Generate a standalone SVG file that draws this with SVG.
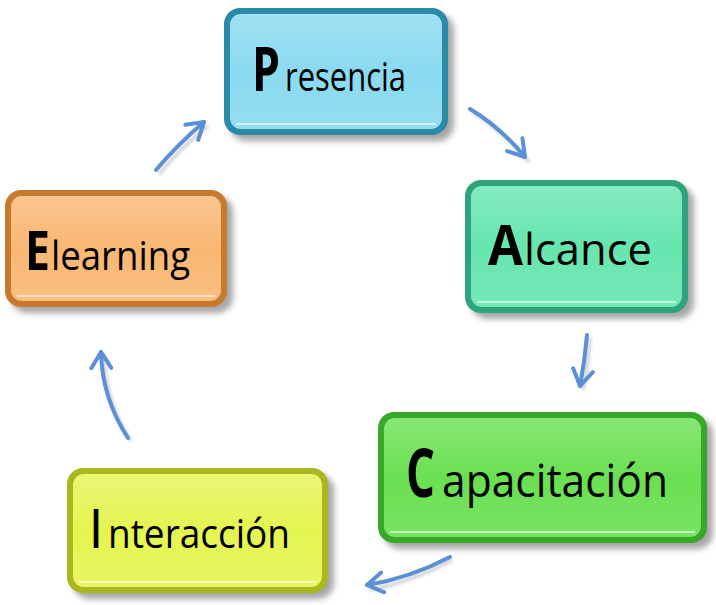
<svg xmlns="http://www.w3.org/2000/svg" width="716" height="605" viewBox="0 0 716 605">
<defs>
  <filter id="sh" x="-20%" y="-20%" width="140%" height="150%">
    <feGaussianBlur stdDeviation="3"/>
  </filter>
  <filter id="ash" x="-30%" y="-30%" width="160%" height="160%">
    <feGaussianBlur stdDeviation="1.5"/>
  </filter>
  <linearGradient id="gloss" x1="0" y1="0" x2="0" y2="1">
    <stop offset="0" stop-color="#fff" stop-opacity="0.25"/>
    <stop offset="0.5" stop-color="#fff" stop-opacity="0.05"/>
    <stop offset="1" stop-color="#fff" stop-opacity="0.15"/>
  </linearGradient>
  <marker id="ah" viewBox="0 0 12 12" refX="9" refY="6" markerWidth="6" markerHeight="6" orient="auto" markerUnits="strokeWidth">
    <path d="M1,1 L9,6 L1,11" fill="none" stroke="#5b8fd6" stroke-width="2" stroke-linecap="round" stroke-linejoin="round"/>
  </marker>
</defs>
<style>
  .shadow{fill:#000;opacity:0.35;filter:url(#sh)}
  .ini{font-family:"Open Sans","Liberation Sans",sans-serif;font-weight:bold;fill:#000}
  .rest{font-family:"Open Sans","Liberation Sans",sans-serif;fill:#000}
  .gl{fill:url(#gloss)}
  .hl{fill:none;stroke:#fff;stroke-opacity:0.55;stroke-width:2}
  .conn path.s{fill:none;stroke:#9aa3b0;stroke-width:4;opacity:0.45;filter:url(#ash)}
  .conn path.a{fill:none;stroke:#5b8fd6;stroke-width:4;stroke-linecap:round;marker-end:url(#ah)}
</style>

<g id="presencia">
  <rect class="shadow" x="230" y="14" width="224" height="127" rx="16"/>
  <rect x="224" y="8" width="224" height="127" rx="16" fill="#2a8aa7"/>
  <rect x="230" y="14" width="212" height="115" rx="11" fill="#83d8ef"/>
  <rect class="gl" x="230" y="14" width="212" height="115" rx="11"/>
  <path class="hl" d="M236,124 H436"/>
  <text class="ini" x="252" y="91" font-size="60" textLength="28" lengthAdjust="spacingAndGlyphs">P</text>
  <text class="rest" x="285" y="91" font-size="41" textLength="121" lengthAdjust="spacingAndGlyphs">resencia</text>
</g>

<g id="alcance">
  <rect class="shadow" x="471" y="186" width="223" height="133" rx="16"/>
  <rect x="465" y="180" width="223" height="133" rx="16" fill="#2fa37a"/>
  <rect x="471" y="186" width="211" height="121" rx="11" fill="#5ee4ab"/>
  <rect class="gl" x="471" y="186" width="211" height="121" rx="11"/>
  <path class="hl" d="M477,302 H676"/>
  <text class="ini" x="488" y="265" font-size="56" textLength="35" lengthAdjust="spacingAndGlyphs">A</text>
  <text class="rest" x="524" y="265" font-size="43" textLength="128" lengthAdjust="spacingAndGlyphs">lcance</text>
</g>

<g id="capacitacion">
  <rect class="shadow" x="384" y="418" width="329" height="131" rx="16"/>
  <rect x="378" y="412" width="329" height="131" rx="16" fill="#38a82a"/>
  <rect x="384" y="418" width="317" height="119" rx="11" fill="#62de48"/>
  <rect class="gl" x="384" y="418" width="317" height="119" rx="11"/>
  <path class="hl" d="M390,532 H695"/>
  <text class="ini" x="406" y="497" font-size="66" textLength="29" lengthAdjust="spacingAndGlyphs">C</text>
  <text class="rest" x="442" y="497" font-size="45" textLength="226" lengthAdjust="spacingAndGlyphs">apacitación</text>
</g>

<g id="interaccion">
  <rect class="shadow" x="73" y="474" width="261" height="125" rx="16"/>
  <rect x="67" y="468" width="261" height="125" rx="16" fill="#a8b81e"/>
  <rect x="73" y="474" width="249" height="113" rx="11" fill="#e3f446"/>
  <rect class="gl" x="73" y="474" width="249" height="113" rx="11"/>
  <path class="hl" d="M79,582 H316"/>
  <text class="ini" x="91" y="548" font-size="53" textLength="10" lengthAdjust="spacingAndGlyphs">I</text>
  <text class="rest" x="108" y="548" font-size="40" textLength="182" lengthAdjust="spacingAndGlyphs">nteracción</text>
</g>

<g id="elearning">
  <rect class="shadow" x="11" y="196" width="222" height="117" rx="16"/>
  <rect x="5" y="190" width="222" height="117" rx="16" fill="#c77a2e"/>
  <rect x="11" y="196" width="210" height="105" rx="11" fill="#f9b36b"/>
  <rect class="gl" x="11" y="196" width="210" height="105" rx="11"/>
  <path class="hl" d="M17,296 H215"/>
  <text class="ini" x="25" y="270" font-size="53" textLength="25" lengthAdjust="spacingAndGlyphs">E</text>
  <text class="rest" x="51" y="270" font-size="41" textLength="139" lengthAdjust="spacingAndGlyphs">learning</text>
</g>

<g id="connectors" class="conn">
  <path class="s" d="M473,112 Q502,130 529,162"/>
  <path class="a" d="M470,109 Q500,127 525,157"/>
  <path class="s" d="M590,338 Q588,362 583,390"/>
  <path class="a" d="M587,335 Q585,360 580,386"/>
  <path class="s" d="M452,560 Q412,582 369,590"/>
  <path class="a" d="M450,557 Q410,578 367,585"/>
  <path class="s" d="M131,441 Q104,400 104,354"/>
  <path class="a" d="M128,438 Q102,398 101,352"/>
  <path class="s" d="M159,174 Q180,148 208,126"/>
  <path class="a" d="M156,170 Q178,144 204,122"/>
</g>
</svg>
